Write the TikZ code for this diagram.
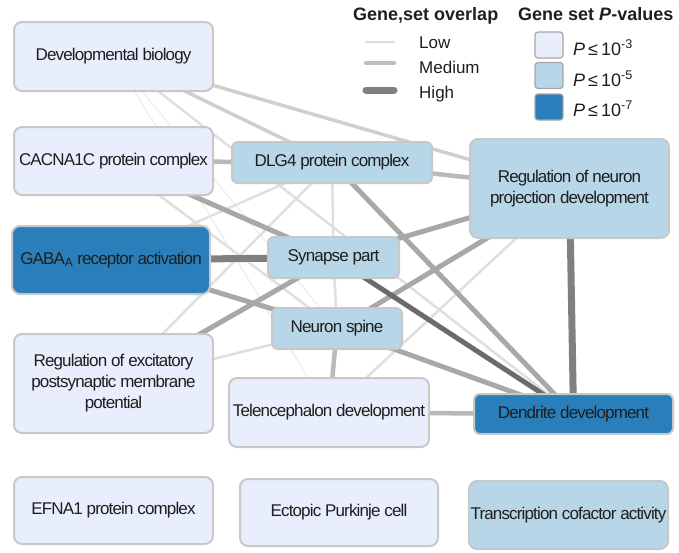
\documentclass[tikz,border=0pt]{standalone}
\usepackage{fontspec}
\setmainfont{Liberation Sans}
\newfontfamily\boxfont{Liberation Sans}[LetterSpace=-5]
\usetikzlibrary{backgrounds}
\definecolor{lightbox}{HTML}{E8EEFB}
\definecolor{midbox}{HTML}{B7D6E7}
\definecolor{darkbox}{HTML}{2A7FBA}
\definecolor{boxline}{HTML}{C8C8C8}
\definecolor{txt}{HTML}{1E1E1E}
\tikzset{
  gbox/.style={draw=boxline, line width=2pt, rounded corners=8pt, align=center,
    text=txt, font=\boxfont\fontsize{17}{21}\selectfont, inner sep=1pt},
  lowp/.style={gbox, fill=lightbox},
  midp/.style={gbox, fill=midbox},
  highp/.style={gbox, fill=darkbox},
  efaint/.style={draw=gray!12, line width=1.5pt},
  elow/.style={draw=gray!25, line width=2.5pt},
  emedl/.style={draw=gray!38, line width=3.5pt},
  emed/.style={draw=gray!55, line width=4.5pt},
  emedd/.style={draw=gray!68, line width=5pt},
  ehigh/.style={draw=gray, line width=7pt},
  edark/.style={draw=black!58, line width=5pt},
  legtitle/.style={font=\fontsize{18}{20}\selectfont\bfseries, text=txt, anchor=base west, inner sep=0pt},
  leglabel/.style={font=\fontsize{17}{20}\selectfont, text=txt, anchor=base west, inner sep=0pt},
  pbox/.style={draw=gray!70, line width=1.2pt, rounded corners=3pt, minimum width=28pt, minimum height=26pt, inner sep=0pt},
}
\begin{document}
\begin{tikzpicture}[x=1pt, y=-1pt]
\useasboundingbox (0,0) rectangle (679,552);
% nodes
\node[lowp, minimum width=199pt, minimum height=69pt] (db) at (113.5,56.5) {Developmental biology};
\node[lowp, minimum width=199pt, minimum height=68pt] (cac) at (113.5,161) {CACNA1C protein complex};
\node[midp, minimum width=200pt, minimum height=41pt, rounded corners=6pt] (dlg) at (332,162.5) {DLG4 protein complex};
\node[midp, minimum width=199pt, minimum height=99pt] (rnpd) at (569.5,188.5) {Regulation of neuron\\projection development};
\node[highp, minimum width=198pt, minimum height=68pt] (gaba) at (111,260) {GABA\textsubscript{A} receptor activation};
\node[midp, minimum width=131pt, minimum height=41pt, rounded corners=6pt] (sp) at (333.5,257.5) {Synapse part};
\node[midp, minimum width=130pt, minimum height=41pt, rounded corners=6pt] (ns) at (337,328.5) {Neuron spine};
\node[lowp, minimum width=199pt, minimum height=99pt] (rex) at (113.5,383.5) {Regulation of excitatory\\postsynaptic membrane\\potential};
\node[lowp, minimum width=200pt, minimum height=69pt] (tel) at (329,412.5) {Telencephalon development};
\node[highp, minimum width=199pt, minimum height=40pt, rounded corners=6pt] (dd) at (573.5,414) {Dendrite development};
\node[lowp, minimum width=199pt, minimum height=67pt] (efna) at (113.5,510.5) {EFNA1 protein complex};
\node[lowp, minimum width=198pt, minimum height=67pt] (epc) at (339,512.5) {Ectopic Purkinje cell};
\node[midp, minimum width=199pt, minimum height=68pt] (tca) at (568.5,515) {Transcription cofactor activity};
% edges
\begin{scope}[on background layer]
\draw[efaint] (db.center) -- (tel.center);
\draw[efaint] (db.center) -- (ns.center);
\draw[elow] (db.center) -- (dd.center);
\draw[elow] (gaba.center) -- (dlg.center);
\draw[elow] (rex.center) -- (dlg.center);
\draw[elow] (cac.center) -- (ns.center);
\draw[elow] (rex.center) -- (ns.center);
\draw[elow] (rnpd.center) -- (tel.center);
\draw[elow] (dlg.center) -- (sp.center);
\draw[elow] (sp.center) -- (ns.center);
\draw[emedl] (db.center) -- (rnpd.center);
\draw[emedl] (db.center) -- (dlg.center);
\draw[emed] (cac.center) -- (dlg.center);
\draw[emed] (dlg.center) -- (rnpd.center);
\draw[emed] (ns.center) -- (tel.center);
\draw[emed] (tel.center) -- (dd.center);
\draw[emedd] (dlg.center) -- (dd.center);
\draw[emedd] (ns.center) -- (dd.center);
\draw[emedd] (rnpd.center) -- (sp.center);
\draw[emedd] (rnpd.center) -- (ns.center);
\draw[emedd] (sp.center) -- (rex.center);
\draw[emedd] (gaba.center) -- (ns.center);
\draw[emedd] (cac.center) -- (sp.center);
\draw[edark] (sp.center) -- (dd.center);
\draw[ehigh] (gaba.center) -- (sp.center);
\draw[ehigh] (rnpd.center) -- (dd.center);
\end{scope}
% legend
\node[legtitle] (lt1) at (353,20) {Gene,set overlap};
\node[legtitle] (lt2) at (518,20) {Gene set \textit{P}-values};
\coordinate (l1a) at (366,42); \coordinate (l1b) at (394,42);
\coordinate (l2a) at (366,63); \coordinate (l2b) at (394,63);
\coordinate (l3a) at (366,90); \coordinate (l3b) at (394,90);
\draw[draw=gray!28, line width=2pt, line cap=round] (l1a) -- (l1b);
\draw[draw=gray!50, line width=4.5pt, line cap=round] (l2a) -- (l2b);
\draw[draw=gray, line width=7pt, line cap=round] (l3a) -- (l3b);
\node[leglabel] (lowl) at (419,48) {Low};
\node[leglabel] (medl) at (419,73) {Medium};
\node[leglabel] (highl) at (419,98) {High};
\node[pbox, fill=lightbox] (pb1) at (549,45) {};
\node[pbox, fill=midbox] (pb2) at (549,75.5) {};
\node[pbox, fill=darkbox] (pb3) at (549,107) {};
\node[leglabel, font=\fontsize{18}{20}\selectfont] (pl1) at (573,55) {\textit{P}\,≤\,10\textsuperscript{-3}};
\node[leglabel, font=\fontsize{18}{20}\selectfont] (pl2) at (573,86) {\textit{P}\,≤\,10\textsuperscript{-5}};
\node[leglabel, font=\fontsize{18}{20}\selectfont] (pl3) at (573,116) {\textit{P}\,≤\,10\textsuperscript{-7}};
\end{tikzpicture}
\end{document}
